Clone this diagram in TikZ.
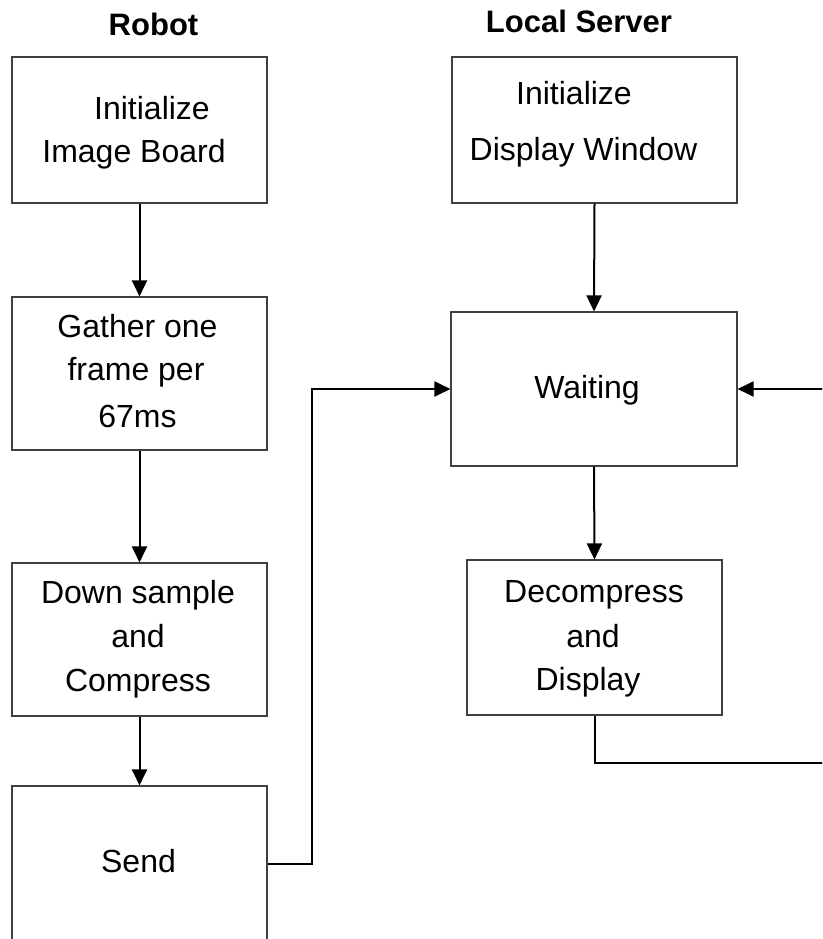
\documentclass[tikz,border=0pt]{standalone}
\usepackage{fontspec}
\setmainfont{Liberation Sans}
\usetikzlibrary{arrows.meta}
\begin{document}
\begin{tikzpicture}[x=1pt,y=-1pt,
  box/.style={draw=black!75, line width=1.1pt, rectangle, inner sep=0pt},
  lbl/.style={anchor=base, inner sep=0pt, font=\fontsize{32}{38}\selectfont},
  ttl/.style={anchor=base, inner sep=0pt, font=\fontsize{31}{37}\selectfont\bfseries},
  conn/.style={draw=black, line width=2pt},
  arr/.style={conn, -{Triangle[length=16pt,width=15pt]}}]
\useasboundingbox (0,0) rectangle (822,939);
\clip (0,0) rectangle (822,939);

% column titles
\node[ttl] (trobot) at (153.5,36) {Robot};
\node[ttl] (tserver) at (579,33) {Local Server};

% robot side
\node[box, minimum width=255, minimum height=146] (b1) at (139.5,130) {};
\node[box, minimum width=255, minimum height=153] (b2) at (139.5,373.5) {};
\node[box, minimum width=255, minimum height=153] (b3) at (139.5,639.5) {};
\node[box, minimum width=255, minimum height=156] (b4) at (139.5,864) {};

\node[lbl] (b1a) at (152,120) {Initialize};
\node[lbl] (b1b) at (134,162) {Image Board};
\node[lbl] (b2a) at (137.5,337) {Gather one};
\node[lbl] (b2b) at (136,380) {frame per};
\node[lbl] (b2c) at (137.5,427) {67ms};
\node[lbl] (b3a) at (138,603) {Down sample};
\node[lbl] (b3b) at (138,647) {and};
\node[lbl] (b3c) at (138,691) {Compress};
\node[lbl] (b4a) at (138.5,872) {Send};

% server side
\node[box, minimum width=285, minimum height=146] (r1) at (594.5,130) {};
\node[box, minimum width=286, minimum height=154] (r2) at (594,389) {};
\node[box, minimum width=255, minimum height=155] (r3) at (594.5,637.5) {};

\node[lbl] (r1a) at (574,105) {Initialize};
\node[lbl] (r1b) at (583.5,160) {Display Window};
\node[lbl] (r2a) at (587,398) {Waiting};
\node[lbl] (r3a) at (594,602) {Decompress};
\node[lbl] (r3b) at (593,647) {and};
\node[lbl] (r3c) at (588,690) {Display};

% flow
\draw[arr] (b1.south) -- (b2.north);
\draw[arr] (b2.south) -- (b3.north);
\draw[arr] (b3.south) -- (b4.north);
\draw[arr] (r1.south) -- (r2.north);
\draw[arr] (r2.south) -- (r3.north);

\coordinate (j1) at (312,389);
\draw[arr] (b4.east) -| (j1) -- (r2.west);

\coordinate (e1) at (824,763);
\coordinate (e2) at (824,389);
\draw[conn] (r3.south) |- (e1);
\draw[arr] (e2) -- (r2.east);
\end{tikzpicture}
\end{document}
